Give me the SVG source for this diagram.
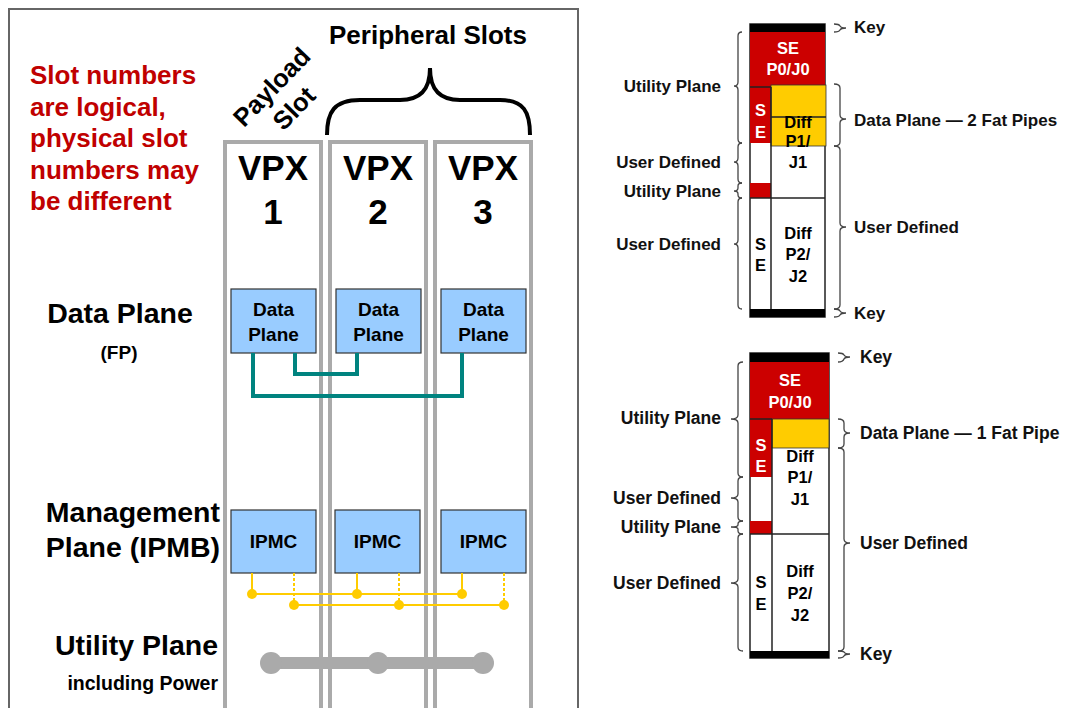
<svg xmlns="http://www.w3.org/2000/svg" width="1070" height="708" viewBox="0 0 1070 708">
<style>
text{font-family:"Liberation Sans",Arial,sans-serif;font-weight:bold;fill:#000}
.slot{fill:none;stroke:#aaaaaa;stroke-width:4}
.box{fill:#99ccff;stroke:#333;stroke-width:1.2}
.bt{font-size:19px;text-anchor:middle}
.big{font-size:28.5px}
.red{font-size:26px;fill:#c00000}
.vpx{font-size:35px;text-anchor:middle}
.teal{fill:none;stroke:#00837f;stroke-width:4}
.yl{fill:none;stroke:#ffcc00;stroke-width:2}
.yd{fill:none;stroke:#ffcc00;stroke-width:2;stroke-dasharray:3 2}
.yc{fill:#ffcc00}
.br{fill:none;stroke:#444;stroke-width:1.3}
.lbl{font-size:17px;fill:#111}
.lr{text-anchor:end}
.wt{fill:#fff;font-size:16.5px;text-anchor:middle}
.ct{font-size:16.5px;text-anchor:middle}
.blk{fill:#000}
.rd{fill:#cc0000}
.cn{fill:#fff;stroke:#222;stroke-width:1.5}
.ln{stroke:#222;stroke-width:1.5}
</style>
<rect width="1070" height="708" fill="#fff"/>
<g id="frame"><rect x="9" y="9" width="569" height="720" fill="none" stroke="#666" stroke-width="2"/></g>
<g id="notes">
<text class="red" x="30" y="84">Slot numbers</text>
<text class="red" x="30" y="116">are logical,</text>
<text class="red" x="30" y="147">physical slot</text>
<text class="red" x="30" y="179">numbers may</text>
<text class="red" x="30" y="210">be different</text>
<text x="428" y="44" style="font-size:26px" text-anchor="middle">Peripheral Slots</text>
<path d="M327,135 C327,112 334,100 360,100 L400,100 C420,100 430,90 430,68 C430,90 440,100 460,100 L500,100 C524,100 530,112 530,135" fill="none" stroke="#000" stroke-width="4"/>
<g transform="translate(278,93) rotate(-46)"><text x="0" y="0" style="font-size:25.5px" text-anchor="middle">Payload</text><text x="0" y="31" style="font-size:25.5px" text-anchor="middle">Slot</text></g>
<text class="big" x="120" y="323" text-anchor="middle">Data Plane</text>
<text x="119" y="359" style="font-size:19px" text-anchor="middle">(FP)</text>
<text class="big" x="220" y="522" text-anchor="end">Management</text>
<text class="big" x="220" y="557" text-anchor="end">Plane (IPMB)</text>
<text class="big" x="218" y="655" text-anchor="end">Utility Plane</text>
<text x="218" y="690" style="font-size:19.5px" text-anchor="end">including Power</text>
</g>
<g id="slot1"><rect class="slot" x="225" y="142" width="96" height="600"/><text class="vpx" x="273" y="180">VPX</text><text class="vpx" x="273" y="224">1</text></g>
<g id="slot2"><rect class="slot" x="330" y="142" width="96" height="600"/><text class="vpx" x="378" y="180">VPX</text><text class="vpx" x="378" y="224">2</text></g>
<g id="slot3"><rect class="slot" x="435" y="142" width="96" height="600"/><text class="vpx" x="483" y="180">VPX</text><text class="vpx" x="483" y="224">3</text></g>
<g id="dp1"><rect class="box" x="231" y="289" width="85" height="64"/><text class="bt" x="273.5" y="316">Data</text><text class="bt" x="273.5" y="341">Plane</text></g>
<g id="dp2"><rect class="box" x="336" y="289" width="85" height="64"/><text class="bt" x="378.5" y="316">Data</text><text class="bt" x="378.5" y="341">Plane</text></g>
<g id="dp3"><rect class="box" x="441" y="289" width="85" height="64"/><text class="bt" x="483.5" y="316">Data</text><text class="bt" x="483.5" y="341">Plane</text></g>
<g id="ipmc1"><rect class="box" x="231" y="510" width="85" height="63"/><text class="bt" x="273.5" y="548">IPMC</text></g>
<g id="ipmc2"><rect class="box" x="335" y="510" width="85" height="63"/><text class="bt" x="377.5" y="548">IPMC</text></g>
<g id="ipmc3"><rect class="box" x="441" y="510" width="85" height="63"/><text class="bt" x="483.5" y="548">IPMC</text></g>
<g id="connectors">
<path class="teal" d="M253,353 V396 H462 V353"/>
<path class="teal" d="M295,353 V374 H357 V353"/>
<path class="yl" d="M252,573 V594 M357,573 V594 M462,573 V594 M252,594 H462 M294,605 H504"/>
<path class="yd" d="M294,573 V605 M399,573 V605 M504,573 V605"/>
<circle class="yc" cx="252" cy="594" r="5"/><circle class="yc" cx="357" cy="594" r="5"/><circle class="yc" cx="462" cy="594" r="5"/>
<circle class="yc" cx="294" cy="605" r="5"/><circle class="yc" cx="399" cy="605" r="5"/><circle class="yc" cx="504" cy="605" r="5"/>
<line x1="271" y1="663" x2="483" y2="663" stroke="#aaaaaa" stroke-width="12"/>
<circle cx="271" cy="663" r="11" fill="#aaaaaa"/><circle cx="378" cy="663" r="11" fill="#aaaaaa"/><circle cx="483" cy="663" r="11" fill="#aaaaaa"/>
</g>
<g id="conn1">
<rect class="cn" x="750" y="24" width="75" height="293"/>
<rect class="rd" x="750" y="32" width="75" height="55"/>
<rect class="rd" x="750" y="87" width="21" height="56"/>
<rect x="771" y="85" width="55" height="61" fill="#ffcc00" stroke="#333" stroke-width="0.8"/>
<line class="ln" x1="771" y1="117" x2="826" y2="117" stroke-width="1"/>
<rect class="rd" x="750" y="183" width="21" height="15"/>
<line class="ln" x1="771" y1="87" x2="771" y2="309"/>
<line class="ln" x1="750" y1="198" x2="825" y2="198"/>
<line class="ln" x1="750" y1="87" x2="771" y2="87"/>
<rect class="blk" x="750" y="24" width="75" height="8"/>
<rect class="blk" x="750" y="309" width="75" height="8"/>
<text class="wt" x="788" y="54">SE</text><text class="wt" x="788" y="75">P0/J0</text>
<text class="wt" x="760.5" y="116">S</text><text class="wt" x="760.5" y="138">E</text>
<text class="ct" x="798" y="128">Diff</text><text class="ct" x="798" y="147">P1/</text><text class="ct" x="798" y="168">J1</text>
<text class="ct" x="760.5" y="250">S</text><text class="ct" x="760.5" y="271">E</text>
<text class="ct" x="798" y="239">Diff</text><text class="ct" x="798" y="260">P2/</text><text class="ct" x="798" y="282">J2</text>
<path class="br" d="M742,32 Q738,32 738,36 V82 Q738,86 734,86 Q738,86 738,90 V139 Q738,143 742,143"/>
<path class="br" d="M742,143 Q738,143 738,147 V158 Q738,162 734,162 Q738,162 738,166 V179 Q738,183 742,183"/>
<path class="br" d="M742,183 Q738,183 738,186 V188 Q738,191 734,191 Q738,191 738,194 V195 Q738,198 742,198"/>
<path class="br" d="M742,198 Q738,198 738,202 V240 Q738,244 734,244 Q738,244 738,248 V305 Q738,309 742,309"/>
<path class="br" d="M834,24 Q839,24 840,26 Q841,28 846,28 Q841,28 840,30 Q839,32 834,32"/>
<path class="br" d="M834,84 Q840,84 840,88 V115 Q840,119 846,119 Q840,119 840,123 V142 Q840,146 834,146"/>
<path class="br" d="M834,146 Q840,146 840,150 V223 Q840,227 846,227 Q840,227 840,231 V305 Q840,309 834,309"/>
<path class="br" d="M834,309 Q839,309 840,311 Q841,313 846,313 Q841,313 840,315 Q839,317 834,317"/>
<text class="lbl lr" x="721" y="92">Utility Plane</text>
<text class="lbl lr" x="721" y="168">User Defined</text>
<text class="lbl lr" x="721" y="197">Utility Plane</text>
<text class="lbl lr" x="721" y="250">User Defined</text>
<text class="lbl" x="854" y="33">Key</text>
<text class="lbl" x="854" y="126">Data Plane — 2 Fat Pipes</text>
<text class="lbl" x="854" y="233">User Defined</text>
<text class="lbl" x="854" y="319">Key</text>
</g>
<g id="conn2">
<rect class="cn" x="750" y="353" width="79" height="305"/>
<rect class="rd" x="750" y="362" width="79" height="57"/>
<rect class="rd" x="750" y="419" width="22" height="58"/>
<rect x="772" y="419" width="57" height="29" fill="#ffcc00" stroke="#333" stroke-width="0.8"/>
<rect class="rd" x="750" y="521" width="22" height="13"/>
<line class="ln" x1="772" y1="419" x2="772" y2="651"/>
<line class="ln" x1="750" y1="534" x2="829" y2="534"/>
<line class="ln" x1="750" y1="419" x2="772" y2="419"/>
<rect class="blk" x="750" y="353" width="79" height="9"/>
<rect class="blk" x="750" y="651" width="79" height="7"/>
<text class="wt" x="790" y="386">SE</text><text class="wt" x="790" y="408">P0/J0</text>
<text class="wt" x="761" y="451">S</text><text class="wt" x="761" y="472">E</text>
<text class="ct" x="800" y="462">Diff</text><text class="ct" x="800" y="483">P1/</text><text class="ct" x="800" y="505">J1</text>
<text class="ct" x="761" y="588">S</text><text class="ct" x="761" y="610">E</text>
<text class="ct" x="800" y="577">Diff</text><text class="ct" x="800" y="599">P2/</text><text class="ct" x="800" y="621">J2</text>
<path class="br" d="M743,362 Q738,362 738,366 V415 Q738,419 731,419 Q738,419 738,423 V473 Q738,477 743,477"/>
<path class="br" d="M743,477 Q738,477 738,481 V494 Q738,498 731,498 Q738,498 738,502 V517 Q738,521 743,521"/>
<path class="br" d="M743,521 Q738,521 738,524 V525 Q738,527 731,527 Q738,527 738,529 V531 Q738,534 743,534"/>
<path class="br" d="M743,534 Q738,534 738,538 V579 Q738,583 731,583 Q738,583 738,587 V647 Q738,651 743,651"/>
<path class="br" d="M838,353 Q843,353 844,355 Q845,357 850,357 Q845,357 844,359 Q843,362 838,362"/>
<path class="br" d="M838,419 Q844,419 844,423 V429 Q844,433 850,433 Q844,433 844,437 V444 Q844,448 838,448"/>
<path class="br" d="M838,448 Q844,448 844,452 V539 Q844,543 850,543 Q844,543 844,547 V647 Q844,651 838,651"/>
<path class="br" d="M838,651 Q843,651 844,652 Q845,654 850,654 Q845,654 844,656 Q843,658 838,658"/>
<text class="lbl lr" x="721" y="424" style="font-size:17.5px">Utility Plane</text>
<text class="lbl lr" x="721" y="504" style="font-size:17.5px">User Defined</text>
<text class="lbl lr" x="721" y="533" style="font-size:17.5px">Utility Plane</text>
<text class="lbl lr" x="721" y="589" style="font-size:17.5px">User Defined</text>
<text class="lbl" x="860" y="363" style="font-size:17.5px">Key</text>
<text class="lbl" x="860" y="439" style="font-size:17.5px">Data Plane — 1 Fat Pipe</text>
<text class="lbl" x="860" y="549" style="font-size:17.5px">User Defined</text>
<text class="lbl" x="860" y="660" style="font-size:17.5px">Key</text>
</g>
</svg>
